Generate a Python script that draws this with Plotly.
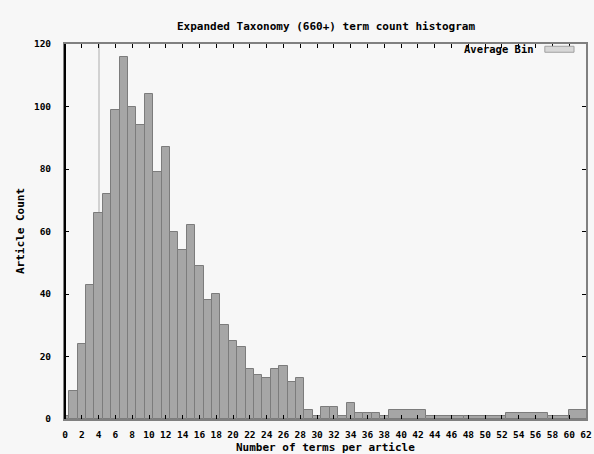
import plotly.graph_objects as go

# Data (gnuplot-style "with boxes": each point's box reaches halfway to its neighbours)
term_counts = [0, 1, 2, 3, 4, 5, 6, 7, 8, 9, 10, 11, 12, 13, 14, 15, 16, 17, 18, 19,
               20, 21, 22, 23, 24, 25, 26, 27, 28, 29, 30, 31, 32, 33, 34, 35, 36, 37,
               38, 39, 47, 48, 57, 58, 62]
article_counts = [1, 9, 24, 43, 66, 72, 99, 116, 100, 94, 104, 79, 87, 60, 54, 62, 49, 38,
                  40, 30, 25, 23, 16, 14, 13, 16, 17, 12, 13, 3, 1, 4, 4, 1, 5, 2, 2, 2,
                  1, 3, 1, 1, 2, 1, 3]
average_bin = [4]
average_height = [120]
x_ticks = list(range(0, 63, 2))
y_ticks = [0, 20, 40, 60, 80, 100, 120]

# compute automatic box extents (like gnuplot autowidth)
mids = [(a + b) / 2 for a, b in zip(term_counts[:-1], term_counts[1:])]
lefts = [term_counts[0] - (mids[0] - term_counts[0])] + mids
rights = mids + [term_counts[-1] + (term_counts[-1] - mids[-1])]
centers = [(l + r) / 2 for l, r in zip(lefts, rights)]
widths = [r - l for l, r in zip(lefts, rights)]

FONT = "DejaVu Sans Mono"
BG = "#f7f7f7"

fig = go.Figure()
fig.add_trace(go.Bar(
    x=average_bin, y=average_height, width=[0.24],
    marker=dict(color="#d2d2d2", line=dict(width=0)),
    name="Average Bin", showlegend=False, hoverinfo="skip"))
fig.add_trace(go.Bar(
    x=centers, y=article_counts, width=widths,
    marker=dict(color="#a6a6a6", line=dict(color="#7c7c7c", width=1)),
    showlegend=False, name="count"))

axis_common = dict(
    showgrid=False, zeroline=False, showline=True, linecolor="#808080", linewidth=2,
    mirror="ticks", ticks="inside", ticklen=4, tickcolor="#000000", tickwidth=1,
    layer="above traces",
    tickfont=dict(family=FONT, size=9.5, color="#000000", weight="bold"),
)

fig.update_layout(
    width=594, height=454,
    margin=dict(l=64.5, r=8, t=44, b=34.5, autoexpand=False),
    paper_bgcolor=BG, plot_bgcolor=BG,
    barmode="overlay", bargap=0,
    showlegend=False,
    xaxis=dict(range=[0, 62], tickvals=x_ticks, ticklabelstandoff=6, **axis_common),
    yaxis=dict(range=[0, 120], tickvals=y_ticks, ticklabelstandoff=10, **axis_common),
    annotations=[
        dict(text="Expanded Taxonomy (660+) term count histogram", xref="paper", yref="paper",
             x=0.5, y=1, yshift=18, xanchor="center", yanchor="middle", showarrow=False,
             font=dict(family=FONT, size=11, color="#000000", weight="bold")),
        dict(text="Number of terms per article", xref="paper", yref="paper",
             x=0.5, y=0, yshift=-28.5, xanchor="center", yanchor="middle", showarrow=False,
             font=dict(family=FONT, size=11, color="#000000", weight="bold")),
        dict(text="Article Count", xref="paper", yref="paper", textangle=-90,
             x=0, xshift=-44.5, y=0.5, xanchor="center", yanchor="middle", showarrow=False,
             font=dict(family=FONT, size=11, color="#000000", weight="bold")),
        dict(text="Average Bin", xref="paper", yref="paper",
             x=0.904, y=1, yshift=-5, xanchor="right", yanchor="middle", showarrow=False,
             font=dict(family=FONT, size=10.5, color="#000000", weight="bold")),
    ],
    shapes=[
        dict(type="rect", xref="paper", yref="paper", x0=0.921, x1=0.977, y0=0.978, y1=0.994,
             fillcolor="#d8d8d8", line=dict(color="#a0a0a0", width=1)),
        dict(type="line", xref="paper", yref="paper", x0=0, x1=0, y0=0, y1=1,
             line=dict(color="#000000", width=2)),
    ],
)

fig.write_html("out.html", config={"displayModeBar": False},
               post_script="document.body.style.margin='0';document.body.style.overflow='hidden';")
